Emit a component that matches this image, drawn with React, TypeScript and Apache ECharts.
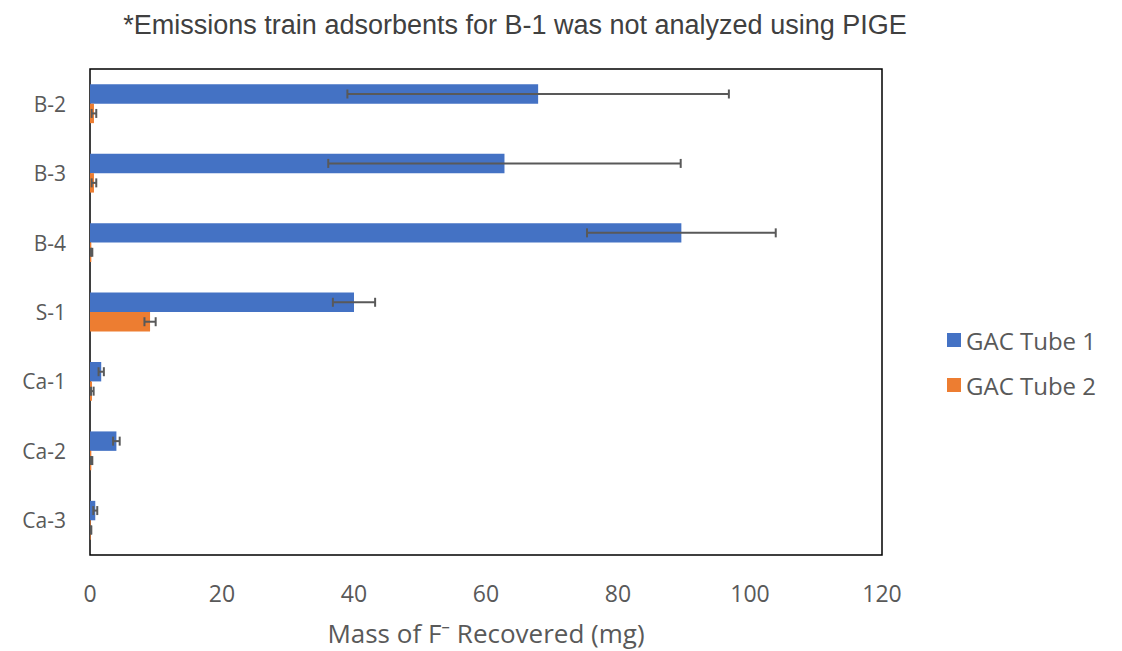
import React, { useEffect, useRef } from "react";
import * as echarts from "echarts";

const categories = ["B-2", "B-3", "B-4", "S-1", "Ca-1", "Ca-2", "Ca-3"];
const tube1 = [67.9, 62.8, 89.6, 40.0, 1.7, 4.0, 0.8];
const tube1Err = [28.9, 26.7, 14.3, 3.2, 0.4, 0.5, 0.3];
const tube2 = [0.6, 0.6, 0.2, 9.1, 0.3, 0.2, 0.1];
const tube2Err = [0.35, 0.35, 0.15, 0.85, 0.25, 0.15, 0.1];
const seriesNames = ["GAC Tube 1", "GAC Tube 2"];
const titleText = "*Emissions train adsorbents for B-1 was not analyzed using PIGE";

const GAP = 0.44;

export default function App() {
  const ref = useRef<HTMLDivElement>(null);
  useEffect(() => {
    const chart = echarts.init(ref.current!, null, { renderer: "svg" });
    const errData: number[][] = [];
    categories.forEach((_, i) => {
      errData.push([i, tube1[i], tube1Err[i], 0]);
      errData.push([i, tube2[i], tube2Err[i], 1]);
    });
    const font = "'Open Sans', 'Noto Sans', sans-serif";
    chart.setOption({
      animation: false,
      title: {
        text: titleText,
        left: 510,
        top: 6,
        textAlign: "center",
        textStyle: { fontFamily: "'Liberation Sans', Arial, sans-serif", fontSize: 27, fontWeight: "normal", color: "#404040" },
      },
      legend: {
        orient: "vertical",
        left: 942,
        top: 323,
        itemWidth: 14,
        itemHeight: 14,
        itemGap: 21,
        itemTextGap: 9,
        icon: "rect",
        data: seriesNames,
        textStyle: { fontFamily: font, fontSize: 24, color: "#595959" },
      },
      grid: {
        left: 90,
        top: 69,
        width: 792,
        height: 488,
        show: true,
        borderColor: "#000",
        borderWidth: 1.5,
        containLabel: false,
      },
      xAxis: {
        type: "value",
        min: 0,
        max: 120,
        interval: 20,
        axisLine: { show: false },
        axisTick: { show: false },
        splitLine: { show: false },
        axisLabel: { fontFamily: font, fontSize: 23, color: "#595959", margin: 26 },
        name: "Mass of F\u207B Recovered (mg)",
        nameLocation: "middle",
        nameGap: 65,
        nameTextStyle: { fontFamily: font, fontSize: 26, color: "#595959" },
      },
      yAxis: {
        type: "category",
        data: categories,
        inverse: true,
        axisLine: { show: false },
        axisTick: { show: false },
        axisLabel: { fontFamily: font, fontSize: 21, color: "#595959", margin: 24 },
      },
      series: [
        {
          name: seriesNames[0],
          type: "bar",
          data: tube1,
          barGap: "0%",
          barCategoryGap: GAP * 100 + "%",
          itemStyle: { color: "#4472C4" },
        },
        {
          name: seriesNames[1],
          type: "bar",
          data: tube2,
          barGap: "0%",
          barCategoryGap: GAP * 100 + "%",
          itemStyle: { color: "#ED7D31" },
        },
        {
          type: "custom",
          data: errData,
          encode: { x: 1, y: 0 },
          z: 10,
          silent: true,
          renderItem: (params: any, api: any) => {
            const cat = api.value(0);
            const v = api.value(1);
            const e = api.value(2);
            const s = api.value(3);
            const c = api.coord([v, cat]);
            const band = api.size([0, 1])[1];
            const bw = (band * (1 - GAP)) / 2;
            const y = c[1] + (s === 0 ? -bw / 2 : bw / 2);
            const x0 = api.coord([0, cat])[0];
            const lo = Math.max(api.coord([v - e, cat])[0], x0 + 1);
            const hi = api.coord([v + e, cat])[0];
            const st = { stroke: "#595959", lineWidth: 2 };
            const h = 4.5;
            return {
              type: "group",
              children: [
                { type: "line", shape: { x1: lo, y1: y, x2: hi, y2: y }, style: st },
                { type: "line", shape: { x1: lo, y1: y - h, x2: lo, y2: y + h }, style: st },
                { type: "line", shape: { x1: hi, y1: y - h, x2: hi, y2: y + h }, style: st },
              ],
            };
          },
        },
      ],
    });
    return () => chart.dispose();
  }, []);
  return (
    <div
      ref={ref}
      style={{ position: "absolute", left: 0, top: 0, width: 1122, height: 651, background: "#fff" }}
    />
  );
}
